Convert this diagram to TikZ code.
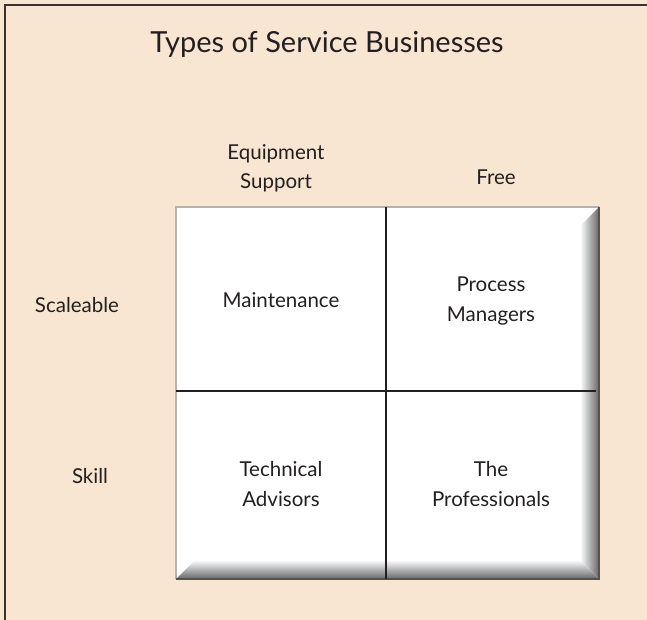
\documentclass[tikz,border=0pt]{standalone}
\usepackage{fontspec}
\setmainfont{Lato}
\definecolor{paper}{RGB}{248,230,211}
\definecolor{frameline}{RGB}{58,50,48}
\definecolor{bevel}{RGB}{100,102,104}
\definecolor{rim}{RGB}{88,80,74}
\definecolor{ink}{RGB}{35,31,32}

\begin{document}
\begin{tikzpicture}[x=1pt, y=-1pt,
    title/.style={font=\fontsize{29}{34}\selectfont, text=ink},
    axis/.style={font=\fontsize{20.5}{29}\selectfont, text=ink, align=center},
    cell/.style={font=\fontsize{20.5}{30}\selectfont, text=ink, align=center},
    divider/.style={ink, line width=1.6pt}]
    \useasboundingbox (0,0) rectangle (647,620);
    \fill[paper] (0,0) rectangle (647,620);
    \draw[frameline, line width=1.5pt] (5,620) -- (5,5) -- (647,5);

    % the white board and its bevel
    \fill[white] (176,207) rectangle (599,579);
    \shade[left color=white, right color=bevel]
        (580,226) -- (599,207) -- (599,579) -- (580,560) -- cycle;
    \shade[top color=white, bottom color=bevel]
        (176,579) -- (195,560) -- (580,560) -- (599,579) -- cycle;
    \draw[gray!60, line width=1.5pt] (176,579) -- (176,207) -- (599,207);
    \draw[rim, line width=1.2pt] (599,207) -- (599,579) -- (176,579);

    \coordinate (top) at (386,207);
    \coordinate (bottom) at (386,579);
    \coordinate (left) at (176,391);
    \coordinate (right) at (596,391);
    \draw[divider] (top) -- (bottom);
    \draw[divider] (left) -- (right);

    \node[title] (heading) at (327,44) {Types of Service Businesses};
    \node[axis] (equip) at (276,168) {Equipment\\Support};
    \node[axis] (free) at (496,177) {Free};
    \node[axis] (scale) at (77,305) {Scaleable};
    \node[axis] (skill) at (90,476) {Skill};

    \node[cell] (maint) at (281,300) {Maintenance};
    \node[cell] (process) at (491,301) {Process\\Managers};
    \node[cell] (tech) at (281,484) {Technical\\Advisors};
    \node[cell] (prof) at (491,484) {The\\Professionals};
\end{tikzpicture}
\end{document}
